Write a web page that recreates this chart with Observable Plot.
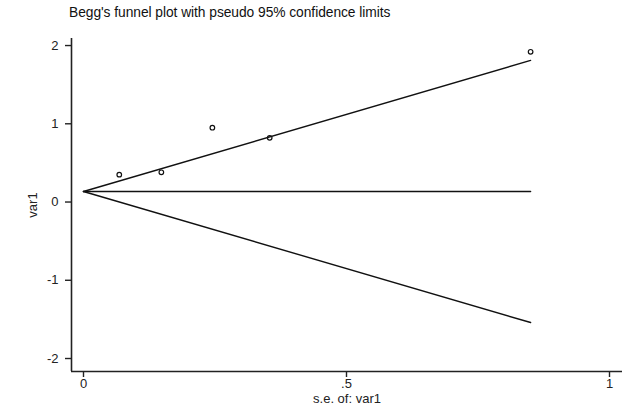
<!DOCTYPE html>
<html>
<head>
<meta charset="utf-8">
<script src="https://cdn.jsdelivr.net/npm/d3@7"></script>
<script src="https://cdn.jsdelivr.net/npm/@observablehq/plot@0.6"></script>
<style>
  html, body { margin: 0; padding: 0; background: #fff; }
  #title { height: 22px; font-family: "Liberation Sans", Arial, sans-serif; font-size: 13.8px; color: #111; padding-left: 69px; line-height: 26px; letter-spacing: -0.05px; }
</style>
</head>
<body>
<div id="title">Begg's funnel plot with pseudo 95% confidence limits</div>
<div id="chart"></div>
<script>
// Study points: standard error and effect (var1)
const studySE = [0.068, 0.148, 0.245, 0.354, 0.850];
const studyEffect = [0.35, 0.38, 0.95, 0.82, 1.92];

// Funnel lines (pseudo 95% limits)
const limitSE = [0, 0.85];
const pooledLine = [0.134, 0.134];
const upperLimit = [0.134, 1.81];
const lowerLimit = [0.134, -1.54];

// Axis ticks and domains
const xTicks = [0, 0.5, 1];
const yTicks = [-2, -1, 0, 1, 2];
const xDomain = [-0.0228, 1.0247];
const yDomain = [-2.166, 2.09];

const points = studySE.map((s, i) => ({se: s, y: studyEffect[i]}));
const lineRows = (ys) => limitSE.map((s, i) => ({se: s, y: ys[i]}));

const fmtX = d => String(d).replace(/^0\./, ".");
const fmtY = d => String(d);

const chart = Plot.plot({
  width: 626,
  height: 389,
  marginLeft: 71,
  marginRight: 4,
  marginTop: 16,
  marginBottom: 40,
  style: {fontFamily: "'Liberation Sans', Arial, sans-serif", fontSize: "13px", color: "#222", background: "#fff"},
  x: {domain: xDomain},
  y: {domain: yDomain},
  marks: [
    Plot.axisX({ticks: xTicks, tickFormat: fmtX, tickSize: 6, tickPadding: 1, stroke: "#222", strokeWidth: 1.4,
      label: "s.e. of: var1", labelAnchor: "center", labelOffset: 31, labelArrow: "none", fontSize: 13}),
    Plot.axisY({ticks: yTicks, tickFormat: fmtY, tickSize: 6, tickPadding: 7, stroke: "#222", strokeWidth: 1.4,
      label: "var1", labelAnchor: "center", labelOffset: 44, labelArrow: "none", fontSize: 13}),
    Plot.ruleX([xDomain[0]], {stroke: "#222", strokeWidth: 1.6}),
    Plot.ruleY([yDomain[0]], {stroke: "#222", strokeWidth: 1.6}),
    Plot.line(lineRows(pooledLine), {x: "se", y: "y", stroke: "#111", strokeWidth: 1.4}),
    Plot.line(lineRows(upperLimit), {x: "se", y: "y", stroke: "#111", strokeWidth: 1.4}),
    Plot.line(lineRows(lowerLimit), {x: "se", y: "y", stroke: "#111", strokeWidth: 1.4}),
    Plot.dot(points, {x: "se", y: "y", r: 2.3, stroke: "#111", strokeWidth: 1.2, fill: "none"})
  ]
});
document.getElementById("chart").appendChild(chart);
</script>
</body>
</html>
